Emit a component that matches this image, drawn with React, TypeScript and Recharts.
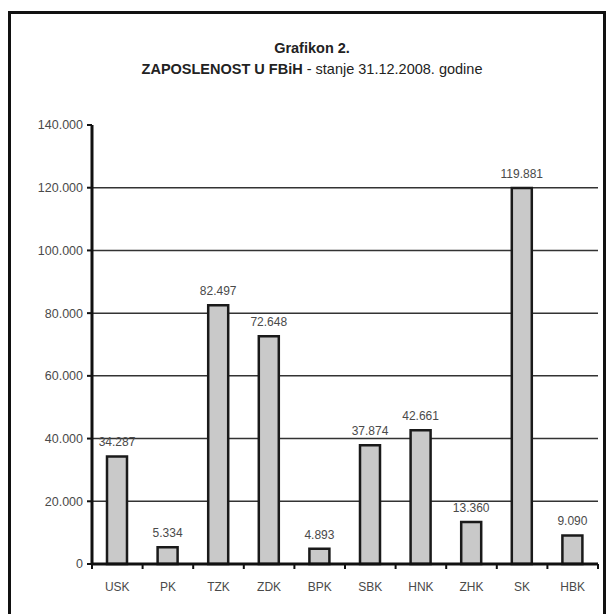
import { Bar, BarChart, CartesianGrid, LabelList, XAxis, YAxis } from "recharts";

const regions = ["USK", "PK", "TZK", "ZDK", "BPK", "SBK", "HNK", "ZHK", "SK", "HBK"];
const employed = [34287, 5334, 82497, 72648, 4893, 37874, 42661, 13360, 119881, 9090];
const yTicks = [0, 20000, 40000, 60000, 80000, 100000, 120000, 140000];

const data = regions.map((name, i) => ({ name, value: employed[i] }));

const fmt = (v: number) => String(v).replace(/\B(?=(\d{3})+(?!\d))/g, ".");

const FONT = "'Liberation Sans', Arial, sans-serif";
const BAND = 50.6;

const XTick = ({ x, y, payload, index }: any) => {
  return (
    <g>
      <line x1={x - BAND / 2} y1={y - 8} x2={x - BAND / 2} y2={y - 3} stroke="#111" strokeWidth={2} />
      {index === regions.length - 1 && (
        <line x1={x + BAND / 2} y1={y - 8} x2={x + BAND / 2} y2={y - 3} stroke="#111" strokeWidth={2} />
      )}
      <text x={x} y={y + 19} textAnchor="middle" fontSize={12} fill="#4a4a4a" fontFamily={FONT}>
        {payload.value}
      </text>
    </g>
  );
};

const App = () => {
  return (
    <div style={{ position: "relative", width: 598, height: 606, fontFamily: FONT }}>
      <div
        style={{
          position: "absolute",
          left: 0,
          top: 3,
          width: 592,
          height: 620,
          border: "3px solid #111",
        }}
      />
      <div style={{ position: "absolute", top: 32, width: 608, textAlign: "center", fontSize: 14.5, color: "#222" }}>
        <div style={{ fontWeight: "bold" }}>Grafikon 2.</div>
        <div style={{ marginTop: 5 }}>
          <b>ZAPOSLENOST U FBiH</b> - stanje 31.12.2008. godine
        </div>
      </div>
      <div style={{ position: "absolute", left: 0, top: 0 }}>
        <BarChart
          width={598}
          height={606}
          data={data}
          margin={{ top: 117, right: 8, bottom: 20, left: 0 }}
          barCategoryGap={0}
        >
          <CartesianGrid vertical={false} stroke="#333" strokeWidth={1.5} horizontalValues={[20000, 40000, 60000, 80000, 100000, 120000]} />
          <XAxis
            dataKey="name"
            axisLine={{ stroke: "#111", strokeWidth: 3 }}
            tickLine={false}
            tick={(props: any) => <XTick {...props} />}
            height={30}
            interval={0}
          />
          <YAxis
            width={84}
            domain={[0, 140000]}
            ticks={yTicks}
            interval={0}
            axisLine={{ stroke: "#111", strokeWidth: 3 }}
            tickLine={{ stroke: "#111", strokeWidth: 2 }}
            tickSize={5}
            tickMargin={4}
            tickFormatter={(v: number) => fmt(v)}
            tick={{ fontSize: 12.5, fill: "#4a4a4a", fontFamily: FONT }}
          />
          <Bar dataKey="value" barSize={20} fill="#c9c9c9" stroke="#1a1a1a" strokeWidth={2.5} isAnimationActive={false}>
            <LabelList
              dataKey="value"
              position="top"
              offset={10}
              formatter={(v: any) => fmt(Number(v))}
              style={{ fontSize: 12, fill: "#4a4a4a", fontFamily: FONT }}
            />
          </Bar>
        </BarChart>
      </div>
    </div>
  );
};

export default App;
